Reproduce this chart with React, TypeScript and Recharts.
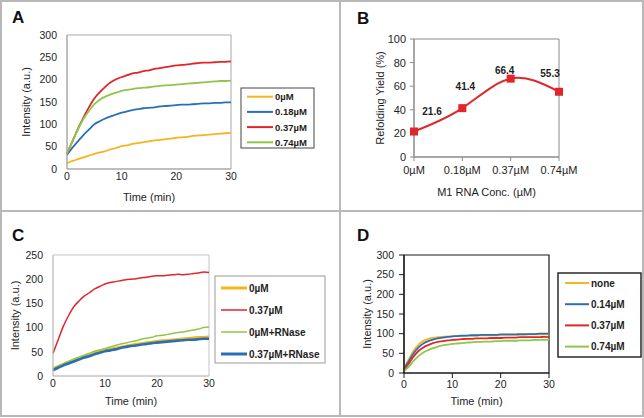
import { LineChart, Line, XAxis, YAxis, ReferenceArea, LabelList } from "recharts";

const FONT = '"Liberation Sans", Arial, Helvetica, sans-serif';
const INK = "#1e1e1e";
const ORANGE = "#F6B51C";
const BLUE = "#2A6FB5";
const RED = "#E2252B";
const GREEN = "#8DC74A";
const PANEL_LINE = "#b8b8b8";

// time axis shared by A, C and D (minutes)
const TIME = [
  0, 1, 2, 3, 4, 5, 6, 7, 8, 9, 10, 11, 12, 13, 14, 15, 16, 17, 18, 19, 20, 21,
  22, 23, 24, 25, 26, 27, 28, 29, 30,
];
const TIME_TICKS = [0, 10, 20, 30];

// panel A
const A_NAMES = ["0µM", "0.18µM", "0.37µM", "0.74µM"];
const A_YTICKS = [0, 50, 100, 150, 200, 250, 300];
const A_0 = [13, 18, 22, 26, 30, 34, 37, 40, 44, 47, 51, 53, 56, 58, 60, 62, 64, 65, 67, 68, 70, 71, 72, 74, 75, 76, 77, 78, 79, 80, 81];
const A_018 = [32, 48, 62, 76, 88, 100, 107, 113, 118, 122, 126, 129, 132, 134, 136, 137, 138, 140, 141, 142, 143, 144, 144, 145, 146, 147, 147, 148, 148, 149, 149];
const A_037 = [35, 62, 90, 115, 138, 158, 172, 184, 194, 201, 206, 210, 214, 216, 219, 221, 224, 226, 228, 230, 232, 233, 234, 236, 237, 238, 238, 239, 240, 240, 241];
const A_074 = [35, 62, 89, 112, 130, 145, 155, 162, 167, 171, 175, 177, 179, 181, 182, 183, 185, 186, 187, 188, 189, 190, 191, 192, 193, 194, 195, 196, 197, 197, 198];

// panel B
const B_CONC = ["0µM", "0.18µM", "0.37µM", "0.74µM"];
const B_YIELD = [21.6, 41.4, 66.4, 55.3];
const B_YTICKS = [0, 20, 40, 60, 80, 100];

// panel C
const C_NAMES = ["0µM", "0.37µM", "0µM+RNase", "0.37µM+RNase"];
const C_YTICKS = [0, 50, 100, 150, 200, 250];
const C_0 = [15, 20, 25, 29, 33, 37, 41, 44, 48, 51, 54, 56, 58, 60, 62, 64, 66, 67, 69, 70, 72, 73, 74, 75, 76, 77, 78, 79, 80, 80, 81];
const C_037 = [47, 75, 103, 125, 143, 155, 165, 172, 180, 185, 190, 193, 195, 197, 199, 200, 201, 203, 204, 206, 207, 207, 208, 209, 210, 209, 210, 212, 213, 215, 214];
const C_0_RNASE = [15, 20, 25, 30, 35, 39, 43, 47, 51, 54, 57, 60, 63, 66, 68, 71, 73, 76, 78, 80, 83, 84, 86, 88, 90, 91, 93, 95, 97, 100, 101];
const C_037_RNASE = [12, 17, 22, 26, 30, 34, 38, 41, 45, 48, 51, 53, 55, 58, 60, 62, 63, 65, 66, 68, 69, 70, 71, 72, 73, 74, 75, 75, 76, 77, 77];

// panel D
const D_NAMES = ["none", "0.14µM", "0.37µM", "0.74µM"];
const D_YTICKS = [0, 50, 100, 150, 200, 250, 300];
const D_NONE = [12, 35, 57, 72, 82, 87, 89, 91, 92, 93, 93, 94, 94, 95, 95, 95, 96, 96, 96, 96, 97, 97, 97, 97, 97, 97, 98, 98, 98, 98, 98];
const D_014 = [12, 30, 50, 65, 75, 81, 85, 88, 90, 92, 93, 94, 95, 95, 96, 96, 97, 97, 97, 97, 98, 98, 98, 98, 99, 99, 99, 99, 100, 100, 100];
const D_037 = [8, 24, 42, 56, 65, 71, 76, 79, 81, 83, 84, 85, 86, 87, 87, 88, 88, 88, 89, 89, 89, 90, 90, 90, 91, 91, 91, 91, 91, 92, 91];
const D_074 = [5, 16, 31, 43, 52, 58, 63, 67, 70, 72, 74, 75, 76, 77, 78, 79, 79, 80, 80, 81, 81, 82, 82, 82, 83, 83, 83, 84, 84, 84, 85];

type Series = { name: string; values: number[]; color: string; width: number };

const A_SERIES: Series[] = [
  { name: A_NAMES[0], values: A_0, color: ORANGE, width: 1.8 },
  { name: A_NAMES[1], values: A_018, color: BLUE, width: 1.8 },
  { name: A_NAMES[2], values: A_037, color: RED, width: 1.8 },
  { name: A_NAMES[3], values: A_074, color: GREEN, width: 1.8 },
];
const C_SERIES: Series[] = [
  { name: C_NAMES[0], values: C_0, color: ORANGE, width: 2.6 },
  { name: C_NAMES[1], values: C_037, color: RED, width: 1.5 },
  { name: C_NAMES[2], values: C_0_RNASE, color: GREEN, width: 1.5 },
  { name: C_NAMES[3], values: C_037_RNASE, color: BLUE, width: 2.6 },
];
const D_SERIES: Series[] = [
  { name: D_NAMES[0], values: D_NONE, color: ORANGE, width: 1.8 },
  { name: D_NAMES[1], values: D_014, color: BLUE, width: 1.8 },
  { name: D_NAMES[2], values: D_037, color: RED, width: 1.8 },
  { name: D_NAMES[3], values: D_074, color: GREEN, width: 1.8 },
];

// where each value label of panel B sits, relative to its point
const B_LABEL_SHIFT = [
  [18, -20],
  [3, -22],
  [-6, -8],
  [-9, -18],
];

const tickStyle = { fill: INK, fontSize: 10.5, fontFamily: FONT };

type PanelProps = {
  x: number;
  y: number;
  w: number;
  h: number;
  margin: { top: number; right: number; bottom: number; left: number };
  yWidth: number;
  xHeight: number;
  yTicks: number[];
  series: Series[];
  frame: string;
  frameWidth: number;
  tick: number;
  yGap: number;
  xGap: number;
  yLabelOffset: number;
  xLabelOffset: number;
};

function TimePanel(p: PanelProps) {
  const rows = TIME.map((t, i) => {
    const r: Record<string, number> = { t };
    p.series.forEach((s, k) => {
      r["s" + k] = s.values[i];
    });
    return r;
  });
  const yMax = p.yTicks[p.yTicks.length - 1];
  return (
    <div style={{ position: "absolute", left: p.x, top: p.y }}>
      <LineChart width={p.w} height={p.h} data={rows} margin={p.margin}>
        <XAxis
          type="number"
          dataKey="t"
          domain={[0, 30]}
          ticks={TIME_TICKS}
          height={p.xHeight}
          tickSize={p.tick}
          tickLine={p.tick > 0 ? { stroke: p.frame } : false}
          tickMargin={p.xGap}
          axisLine={{ stroke: p.frame, strokeWidth: p.frameWidth }}
          tick={tickStyle}
          label={{
            value: "Time (min)",
            position: "insideBottom",
            offset: p.xLabelOffset,
            fill: INK,
            fontSize: 11,
            fontFamily: FONT,
          }}
        />
        <YAxis
          type="number"
          domain={[0, yMax]}
          ticks={p.yTicks}
          width={p.yWidth}
          tickSize={p.tick}
          tickLine={p.tick > 0 ? { stroke: p.frame } : false}
          tickMargin={p.yGap}
          axisLine={{ stroke: p.frame, strokeWidth: p.frameWidth }}
          tick={tickStyle}
          label={{
            value: "Intensity (a.u.)",
            angle: -90,
            position: "insideLeft",
            offset: p.yLabelOffset,
            fill: INK,
            fontSize: 11,
            fontFamily: FONT,
            style: { textAnchor: "middle" },
          }}
        />
        <ReferenceArea
          x1={0}
          x2={30}
          y1={0}
          y2={yMax}
          fill="none"
          stroke={p.frame}
          strokeWidth={p.frameWidth}
          strokeOpacity={1}
        />
        {p.series.map((s, k) => (
          <Line
            key={s.name}
            type="monotone"
            dataKey={"s" + k}
            stroke={s.color}
            strokeWidth={s.width}
            dot={false}
            activeDot={false}
            isAnimationActive={false}
          />
        ))}
      </LineChart>
    </div>
  );
}

function YieldLabel(props: any) {
  const x = props.x ?? props.viewBox?.x;
  const y = props.y ?? props.viewBox?.y;
  const [dx, dy] = B_LABEL_SHIFT[props.index] ?? [0, -12];
  return (
    <text
      x={x + dx}
      y={y + dy}
      textAnchor="middle"
      dominantBaseline="central"
      fontFamily={FONT}
      fontSize={10}
      fontWeight="bold"
      fill={INK}
    >
      {props.value}
    </text>
  );
}

function PanelB() {
  const rows = B_CONC.map((c, i) => ({ c, y: B_YIELD[i] }));
  return (
    <div style={{ position: "absolute", left: 340, top: 0 }}>
      <LineChart
        width={304}
        height={211}
        data={rows}
        margin={{ top: 39, right: 85, bottom: 10, left: 0 }}
      >
        <XAxis
          dataKey="c"
          interval={0}
          height={44}
          tickSize={4}
          tickMargin={5}
          tickLine={{ stroke: "#8a8a8a" }}
          axisLine={{ stroke: "#8a8a8a" }}
          tick={{ ...tickStyle, fontSize: 11 }}
          label={{
            value: "M1 RNA Conc. (µM)",
            position: "insideBottom",
            offset: 5,
            fill: INK,
            fontSize: 11,
            fontFamily: FONT,
          }}
        />
        <YAxis
          type="number"
          domain={[0, 100]}
          ticks={B_YTICKS}
          width={74}
          tickSize={4}
          tickMargin={4}
          tickLine={{ stroke: "#8a8a8a" }}
          axisLine={{ stroke: "#8a8a8a" }}
          tick={{ ...tickStyle, fontSize: 11 }}
          label={{
            value: "Refolding Yield (%)",
            angle: -90,
            position: "insideLeft",
            offset: 40,
            fill: INK,
            fontSize: 11,
            fontFamily: FONT,
            style: { textAnchor: "middle" },
          }}
        />
        <ReferenceArea
          x1={B_CONC[0]}
          x2={B_CONC[B_CONC.length - 1]}
          y1={0}
          y2={100}
          fill="none"
          stroke="#8a8a8a"
          strokeOpacity={1}
        />
        <Line
          type="natural"
          dataKey="y"
          stroke={RED}
          strokeWidth={2}
          isAnimationActive={false}
          activeDot={false}
          dot={(d: any) => (
            <rect
              key={"sq" + d.index}
              x={d.cx - 4}
              y={d.cy - 4}
              width={8}
              height={8}
              fill={RED}
            />
          )}
        >
          <LabelList dataKey="y" content={YieldLabel} />
        </Line>
      </LineChart>
    </div>
  );
}

type LegendProps = {
  x: number;
  y: number;
  w: number;
  h: number;
  border: string;
  borderWidth: number;
  first: number;
  gap: number;
  lineX: number;
  lineLen: number;
  fontSize: number;
  series: Series[];
  legendWidths?: number[];
};

function LegendBox(p: LegendProps) {
  return (
    <g>
      <rect
        x={p.x}
        y={p.y}
        width={p.w}
        height={p.h}
        fill="#fff"
        stroke={p.border}
        strokeWidth={p.borderWidth}
      />
      {p.series.map((s, i) => {
        const cy = p.y + p.first + i * p.gap;
        return (
          <g key={s.name}>
            <line
              x1={p.lineX}
              x2={p.lineX + p.lineLen}
              y1={cy}
              y2={cy}
              stroke={s.color}
              strokeWidth={p.legendWidths ? p.legendWidths[i] : 2}
            />
            <text
              x={p.lineX + p.lineLen + 2}
              y={cy}
              dominantBaseline="central"
              fontFamily={FONT}
              fontSize={p.fontSize}
              fontWeight="bold"
              fill={INK}
            >
              {s.name}
            </text>
          </g>
        );
      })}
    </g>
  );
}

function Letter({ x, y, t }: { x: number; y: number; t: string }) {
  return (
    <text x={x} y={y} fontFamily={FONT} fontSize={17} fontWeight="bold" fill="#111">
      {t}
    </text>
  );
}

export default function App() {
  return (
    <div
      style={{
        position: "fixed",
        left: 0,
        top: 0,
        width: 644,
        height: 418,
        background: "#fff",
        fontFamily: FONT,
        overflow: "hidden",
      }}
    >
      <TimePanel
        x={0}
        y={0}
        w={339}
        h={211}
        margin={{ top: 35, right: 108, bottom: 6, left: 0 }}
        yWidth={67}
        xHeight={36}
        yTicks={A_YTICKS}
        series={A_SERIES}
        frame="#a9a9a9"
        frameWidth={1}
        tick={0}
        yGap={10}
        xGap={4}
        yLabelOffset={26}
        xLabelOffset={4}
      />
      <PanelB />
      <TimePanel
        x={0}
        y={211}
        w={339}
        h={206}
        margin={{ top: 44, right: 130, bottom: 8, left: 0 }}
        yWidth={53}
        xHeight={33}
        yTicks={C_YTICKS}
        series={C_SERIES}
        frame="#c4c4c4"
        frameWidth={1}
        tick={0}
        yGap={10}
        xGap={4}
        yLabelOffset={15}
        xLabelOffset={4}
      />
      <TimePanel
        x={340}
        y={211}
        w={304}
        h={206}
        margin={{ top: 44, right: 95, bottom: 8, left: 0 }}
        yWidth={64}
        xHeight={36}
        yTicks={D_YTICKS}
        series={D_SERIES}
        frame="#1a1a1a"
        frameWidth={1.2}
        tick={5}
        yGap={5}
        xGap={3}
        yLabelOffset={27}
        xLabelOffset={4}
      />
      <svg
        width={644}
        height={418}
        style={{ position: "absolute", left: 0, top: 0, pointerEvents: "none" }}
      >
        <rect x={1} y={1} width={642} height={415} fill="none" stroke={PANEL_LINE} strokeWidth={2} />
        <line x1={340} x2={340} y1={0} y2={417} stroke={PANEL_LINE} strokeWidth={2} />
        <line x1={0} x2={644} y1={211} y2={211} stroke={PANEL_LINE} strokeWidth={2} />
        <Letter x={12} y={23} t="A" />
        <Letter x={357} y={24} t="B" />
        <Letter x={12} y={241} t="C" />
        <Letter x={357} y={241} t="D" />
        <LegendBox
          x={241}
          y={88}
          w={73}
          h={60}
          border="#444"
          borderWidth={1}
          first={8.7}
          gap={15.2}
          lineX={247}
          lineLen={26}
          fontSize={9.5}
          series={A_SERIES}
        />
        <LegendBox
          x={215}
          y={276}
          w={110}
          h={87}
          border="#9a9a9a"
          borderWidth={1}
          first={12}
          gap={22}
          lineX={221}
          lineLen={26}
          fontSize={10}
          series={C_SERIES}
          legendWidths={[3, 1.5, 1.5, 3]}
        />
        <LegendBox
          x={558}
          y={273}
          w={83}
          h={84}
          border="#1a1a1a"
          borderWidth={1.4}
          first={10}
          gap={21.2}
          lineX={565}
          lineLen={24}
          fontSize={10}
          series={D_SERIES}
        />
      </svg>
    </div>
  );
}
